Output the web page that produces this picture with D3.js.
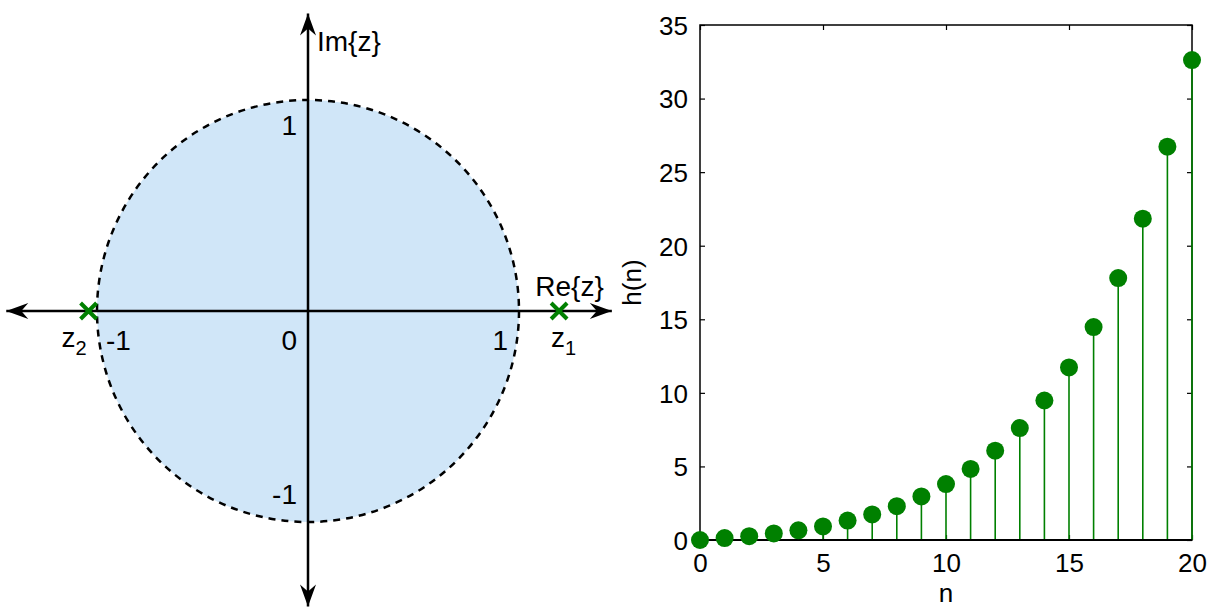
<!DOCTYPE html>
<html>
<head>
<meta charset="utf-8">
<script src="https://cdn.jsdelivr.net/npm/d3@7"></script>
<style>
  body { margin: 0; background: #fff; }
  svg { display: block; }
  text { font-family: "Liberation Sans", Arial, sans-serif; fill: #000; }
</style>
</head>
<body>
<svg id="chart" width="1217" height="609"></svg>
<script>
// pole positions (z-plane)
const poleNames = ["z1", "z2"];
const poleRe = [1.19, -1.04];
const poleIm = [0, 0];

// unit circle tick labels
const zTicks = [-1, 0, 1];

// impulse response h(n)
const nValues = [0, 1, 2, 3, 4, 5, 6, 7, 8, 9, 10, 11, 12, 13, 14, 15, 16, 17, 18, 19, 20];
const hValues = [0, 0.13, 0.26, 0.45, 0.66, 0.92, 1.32, 1.74, 2.30, 2.96, 3.80,
                 4.83, 6.07, 7.61, 9.48, 11.73, 14.47, 17.80, 21.84, 26.73, 32.62];
const nTicks = [0, 5, 10, 15, 20];
const hTicks = [0, 5, 10, 15, 20, 25, 30, 35];

const svg = d3.select("#chart");
const green = "#008000";

// ---------- left: z-plane ----------
const cx = 308, cy = 311, unit = 211;
const re = d3.scaleLinear().domain([-1, 1]).range([cx - unit, cx + unit]);
const im = d3.scaleLinear().domain([-1, 1]).range([cy + unit, cy - unit]);

const zp = svg.append("g");

// ROC disc
zp.append("circle")
  .attr("cx", re(0)).attr("cy", im(0))
  .attr("r", re(1) - re(0))
  .attr("fill", "#d0e6f8");

// axes with arrow heads
function arrow(x1, y1, x2, y2) {
  zp.append("line")
    .attr("x1", x1).attr("y1", y1).attr("x2", x2).attr("y2", y2)
    .attr("stroke", "#000").attr("stroke-width", 2.5);
  const a = Math.atan2(y2 - y1, x2 - x1) * 180 / Math.PI;
  zp.append("path")
    .attr("d", "M0,0 L-22,-8 L-15,0 L-22,8 Z")
    .attr("transform", `translate(${x2},${y2}) rotate(${a})`)
    .attr("fill", "#000");
}
arrow(re(0), im(0), re(-1.43), im(0));
arrow(re(0), im(0), re(1.44), im(0));
arrow(re(0), im(0), re(0), im(1.41));
arrow(re(0), im(0), re(0), im(-1.40));

// dashed unit circle
zp.append("circle")
  .attr("cx", re(0)).attr("cy", im(0))
  .attr("r", re(1) - re(0))
  .attr("fill", "none")
  .attr("stroke", "#000")
  .attr("stroke-width", 2.5)
  .attr("stroke-dasharray", "7,6");

// tick labels on real axis (inside the circle, below the axis)
zp.selectAll(".re-label")
  .data(zTicks)
  .enter().append("text")
  .attr("x", d => d === -1 ? re(d) + 9 : re(d) - 11)
  .attr("y", im(0) + 39)
  .attr("text-anchor", d => d === -1 ? "start" : "end")
  .style("font-size", "28px")
  .text(d => d);

// tick labels on imaginary axis
zp.selectAll(".im-label")
  .data(zTicks.filter(d => d !== 0))
  .enter().append("text")
  .attr("x", re(0) - 11)
  .attr("y", d => d > 0 ? im(d) + 35 : im(d) - 18)
  .attr("text-anchor", "end")
  .style("font-size", "28px")
  .text(d => d);

zp.append("text")
  .attr("x", re(0) + 9).attr("y", im(1.41) + 38)
  .style("font-size", "28px")
  .text("Im{z}");

zp.append("text")
  .attr("x", re(1.44) - 8).attr("y", im(0) - 15)
  .attr("text-anchor", "end")
  .style("font-size", "28px")
  .text("Re{z}");

// poles
poleNames.forEach((name, i) => {
  const px = re(poleRe[i]), py = im(poleIm[i]);
  const s = 8;
  zp.append("path")
    .attr("d", `M${px - s},${py - s}L${px + s},${py + s}M${px - s},${py + s}L${px + s},${py - s}`)
    .attr("stroke", green)
    .attr("stroke-width", 4);
  const t = zp.append("text")
    .attr("x", poleRe[i] > 0 ? px - 8 : px - 27)
    .attr("y", py + 36)
    .style("font-size", "28px");
  t.append("tspan").text("z");
  t.append("tspan").attr("dy", 8).style("font-size", "20px").text(name.slice(1));
});

// ---------- right: stem plot ----------
const plotLeft = 700, plotRight = 1192, plotTop = 25, plotBottom = 540;
const x = d3.scaleLinear().domain([0, 20]).range([plotLeft, plotRight]);
const y = d3.scaleLinear().domain([0, 35]).range([plotBottom, plotTop]);

const sp = svg.append("g");

// box
sp.append("rect")
  .attr("x", plotLeft).attr("y", plotTop)
  .attr("width", plotRight - plotLeft).attr("height", plotBottom - plotTop)
  .attr("fill", "none").attr("stroke", "#000").attr("stroke-width", 1.5);

// axes with inward ticks
const xAxis = sp.append("g")
  .attr("transform", `translate(0,${plotBottom})`)
  .call(d3.axisBottom(x).tickValues(nTicks).tickSize(-5).tickPadding(14));
const xAxisTop = sp.append("g")
  .attr("transform", `translate(0,${plotTop})`)
  .call(d3.axisTop(x).tickValues(nTicks).tickSize(-5).tickFormat(""));
const yAxis = sp.append("g")
  .attr("transform", `translate(${plotLeft},0)`)
  .call(d3.axisLeft(y).tickValues(hTicks).tickSize(-5).tickPadding(12));
const yAxisRight = sp.append("g")
  .attr("transform", `translate(${plotRight},0)`)
  .call(d3.axisRight(y).tickValues(hTicks).tickSize(-5).tickFormat(""));

[xAxis, xAxisTop, yAxis, yAxisRight].forEach(g => {
  g.select(".domain").remove();
  g.selectAll("line").attr("stroke", "#000").attr("stroke-width", 1.2);
  g.selectAll("text")
    .style("font-family", "Liberation Sans, Arial, sans-serif")
    .style("font-size", "26px")
    .attr("fill", "#000");
});
xAxis.selectAll("text").attr("dy", "0.71em");
yAxis.selectAll("text").attr("dy", "0.36em");

// stems
sp.selectAll(".stem")
  .data(nValues)
  .enter().append("line")
  .attr("x1", d => x(d)).attr("x2", d => x(d))
  .attr("y1", y(0)).attr("y2", (d, i) => y(hValues[i]))
  .attr("stroke", green)
  .attr("stroke-width", 1.6);

// baseline
sp.append("line")
  .attr("x1", x(0)).attr("x2", x(20))
  .attr("y1", y(0)).attr("y2", y(0))
  .attr("stroke", "#000").attr("stroke-width", 2);

// markers
sp.selectAll(".dot")
  .data(nValues)
  .enter().append("circle")
  .attr("cx", d => x(d))
  .attr("cy", (d, i) => y(hValues[i]))
  .attr("r", 9)
  .attr("fill", green);

// axis labels
sp.append("text")
  .attr("x", (plotLeft + plotRight) / 2).attr("y", 602)
  .attr("text-anchor", "middle")
  .style("font-size", "26px")
  .text("n");

sp.append("text")
  .attr("transform", `translate(641,${(plotTop + plotBottom) / 2}) rotate(-90)`)
  .attr("text-anchor", "middle")
  .style("font-size", "26px")
  .text("h(n)");
</script>
</body>
</html>
